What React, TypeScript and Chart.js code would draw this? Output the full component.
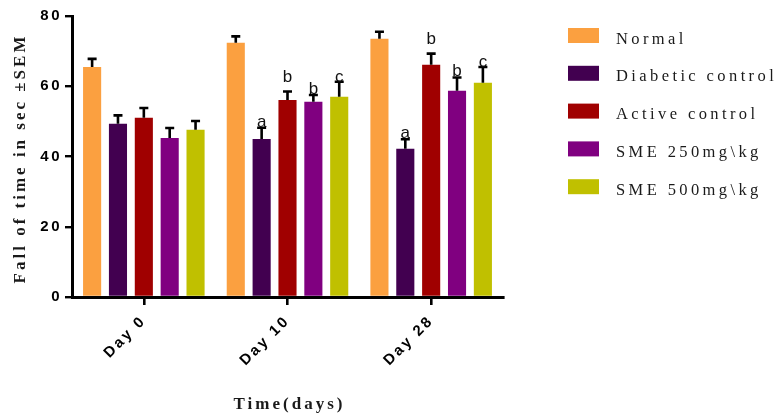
import React, { useEffect, useRef } from "react";
import { Chart, registerables } from "chart.js";

Chart.register(...registerables);

const categories = ["Day 0", "Day 10", "Day 28"];
const seriesNames = ["Normal", "Diabetic control", "Active control", "SME 250mg\\kg", "SME 500mg\\kg"];

const normal = [65.5, 72.4, 73.5];
const normalSem = [2.3, 1.8, 2.0];
const diabetic = [49.3, 45.0, 42.2];
const diabeticSem = [2.4, 3.2, 2.7];
const active = [51.0, 56.1, 66.1];
const activeSem = [2.8, 2.4, 3.2];
const sme250 = [45.3, 55.6, 58.7];
const sme250Sem = [2.8, 1.9, 3.8];
const sme500 = [47.6, 57.0, 61.0];
const sme500Sem = [2.5, 4.3, 4.5];

const normalMarks = ["", "", ""];
const diabeticMarks = ["", "a", "a"];
const activeMarks = ["", "b", "b"];
const sme250Marks = ["", "b", "b"];
const sme500Marks = ["", "c", "c"];

const yMin = 0;
const yMax = 80;
const yStep = 20;

const yTitle = "Fall of time in sec \u00b1SEM";
const xTitle = "Time(days)";

const seriesValues = [normal, diabetic, active, sme250, sme500];
const seriesSem = [normalSem, diabeticSem, activeSem, sme250Sem, sme500Sem];
const seriesMarks = [normalMarks, diabeticMarks, activeMarks, sme250Marks, sme500Marks];
const colors = ["#FBA040", "#420050", "#A00000", "#800080", "#C0C000"];
const markGaps = [1, 1, 10, 1, 0];

const SERIF = '"Liberation Serif", "Times New Roman", serif';
const SANS = '"Liberation Sans", Arial, sans-serif';

const overlayPlugin = {
  id: "overlay",
  beforeDraw(chart: any) {
    chart.ctx.letterSpacing = "2.5px";
  },
  afterDatasetsDraw(chart: any) {
    const ctx = chart.ctx;
    const yScale = chart.scales.y;
    ctx.save();
    chart.data.datasets.forEach((ds: any, di: number) => {
      const meta = chart.getDatasetMeta(di);
      meta.data.forEach((el: any, i: number) => {
        const v = ds.data[i];
        const err = seriesSem[di][i];
        const top = yScale.getPixelForValue(v);
        const cap = yScale.getPixelForValue(v + err);
        ctx.strokeStyle = "#000";
        ctx.lineWidth = 2.6;
        ctx.beginPath();
        ctx.moveTo(el.x, top);
        ctx.lineTo(el.x, cap);
        ctx.moveTo(el.x - 4.5, cap);
        ctx.lineTo(el.x + 4.5, cap);
        ctx.stroke();
        const mark = seriesMarks[di][i];
        if (mark) {
          ctx.letterSpacing = "0px";
          ctx.fillStyle = "#111";
          ctx.font = `17px ${SANS}`;
          ctx.textAlign = "center";
          ctx.textBaseline = "alphabetic";
          ctx.fillText(mark, el.x, cap - markGaps[di]);
        }
      });
    });
    ctx.restore();
  },
  afterDraw(chart: any) {
    const ctx = chart.ctx;
    const area = chart.chartArea;
    ctx.save();
    // legend
    ctx.letterSpacing = "3.4px";
    ctx.font = `16.5px ${SERIF}`;
    ctx.textAlign = "left";
    ctx.textBaseline = "alphabetic";
    chart.data.datasets.forEach((ds: any, di: number) => {
      const cy = 35.5 + di * 37.8;
      ctx.fillStyle = ds.backgroundColor;
      ctx.fillRect(568, cy - 7.5, 31, 15);
      ctx.fillStyle = "#1a1a1a";
      ctx.fillText(ds.label, 616, cy + 8);
    });
    // y title
    ctx.font = `bold 17px ${SERIF}`;
    ctx.letterSpacing = "3px";
    ctx.fillStyle = "#1a1a1a";
    ctx.textAlign = "center";
    ctx.textBaseline = "middle";
    ctx.save();
    ctx.translate(21, (area.top + area.bottom) / 2 + 2);
    ctx.rotate(-Math.PI / 2);
    ctx.fillText(yTitle, 0, 0);
    ctx.restore();
    // x title
    ctx.textBaseline = "alphabetic";
    ctx.fillText(xTitle, (area.left + area.right) / 2 + 2, 409);
    ctx.restore();
  },
};

export default function App() {
  const ref = useRef<HTMLCanvasElement | null>(null);
  useEffect(() => {
    if (!ref.current) return;
    const chart = new Chart(ref.current, {
      type: "bar",
      data: {
        labels: categories,
        datasets: seriesNames.map((name, i) => ({
          label: name,
          data: seriesValues[i],
          backgroundColor: colors[i],
          borderWidth: 0,
          categoryPercentage: 0.9,
          barPercentage: 0.7,
        })),
      },
      options: {
        responsive: false,
        animation: false,
        devicePixelRatio: 1,
        layout: { padding: { top: 16, right: 274, left: 0, bottom: 0 } },
        plugins: { legend: { display: false }, tooltip: { enabled: false } },
        scales: {
          x: {
            grid: { drawOnChartArea: false, offset: false, tickLength: 8, lineWidth: 2.6, color: "#000" },
            border: { display: true, width: 3, color: "#000" },
            ticks: {
              color: "#000",
              font: { family: SANS, size: 15, weight: "bold" },
              minRotation: 45,
              maxRotation: 45,
              autoSkip: false,
              padding: 7,
            },
            afterFit: (s: any) => {
              s.height = 117;
            },
          },
          y: {
            min: yMin,
            max: yMax,
            grid: { drawOnChartArea: false, tickLength: 7, lineWidth: 2.4, color: "#000" },
            border: { display: true, width: 3, color: "#000" },
            ticks: {
              stepSize: yStep,
              color: "#000",
              font: { family: SANS, size: 15, weight: "bold" },
              padding: 3,
            },
            afterFit: (s: any) => {
              s.width = 72;
            },
          },
        },
      },
      plugins: [overlayPlugin],
    } as any);
    return () => chart.destroy();
  }, []);
  return (
    <div style={{ position: "fixed", left: 0, top: 0, width: 777, height: 414, background: "#fff" }}>
      <canvas ref={ref} width={777} height={414} />
    </div>
  );
}
